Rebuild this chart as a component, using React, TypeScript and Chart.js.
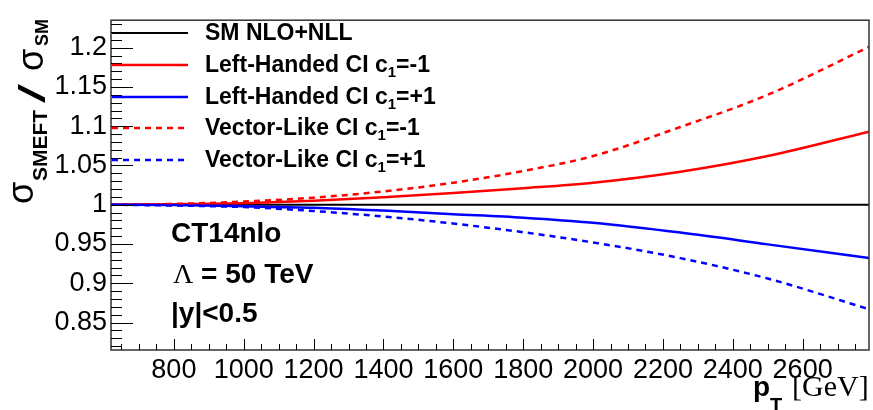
import React, { useEffect, useRef } from "react";
import { Chart, registerables } from "chart.js";
Chart.register(...registerables);

// ---- data ----
const pT = [620, 800, 1000, 1200, 1400, 1600, 1800, 2000, 2250, 2500, 2790];
const smNloNll = [1, 1, 1, 1, 1, 1, 1, 1, 1, 1, 1];
const lhMinus = [1.0, 1.0005, 1.002, 1.005, 1.0095, 1.015, 1.021, 1.028, 1.042, 1.062, 1.093];
const lhPlus = [1.0, 0.9995, 0.998, 0.9962, 0.9925, 0.988, 0.9835, 0.977, 0.9645, 0.9495, 0.932];
const vlMinus = [1.0, 1.001, 1.004, 1.009, 1.017, 1.028, 1.043, 1.062, 1.099, 1.14, 1.201];
const vlPlus = [1.0, 0.999, 0.997, 0.992, 0.985, 0.976, 0.965, 0.952, 0.932, 0.906, 0.867];

const xTickValues = [800, 1000, 1200, 1400, 1600, 1800, 2000, 2200, 2400, 2600];
const xTickLabels = ["800", "1000", "1200", "1400", "1600", "1800", "2000", "2200", "2400", "2600"];
const yTickValues = [0.85, 0.9, 0.95, 1, 1.05, 1.1, 1.15, 1.2];
const yTickLabels = ["0.85", "0.9", "0.95", "1", "1.05", "1.1", "1.15", "1.2"];

const legendMain = ["SM NLO+NLL", "Left-Handed CI c", "Left-Handed CI c", "Vector-Like CI c", "Vector-Like CI c"];
const legendSub = ["", "1", "1", "1", "1"];
const legendTail = ["", "=-1", "=+1", "=-1", "=+1"];

const X_MIN = 620;
const X_MAX = 2790;
const Y_MIN = 0.815;
const Y_MAX = 1.235;

const SANS = "'Liberation Sans', Arial, sans-serif";
const SERIF = "'Liberation Serif', 'Times New Roman', serif";

const styles = [
  { color: "#000000", dash: [] as number[], width: 2 },
  { color: "#ff0000", dash: [] as number[], width: 2.5 },
  { color: "#0000ff", dash: [] as number[], width: 2.5 },
  { color: "#ff0000", dash: [6, 5], width: 2.5 },
  { color: "#0000ff", dash: [6, 5], width: 2.5 },
];

const seriesList = [smNloNll, lhMinus, lhPlus, vlMinus, vlPlus];

const decorPlugin = {
  id: "rootDecor",
  afterDatasetsDraw(chart: any) {
    const ctx = chart.ctx as CanvasRenderingContext2D;
    const { left, right, top, bottom } = chart.chartArea;
    const xs = chart.scales.x;
    const ys = chart.scales.y;
    ctx.save();
    // frame
    ctx.strokeStyle = "#333";
    ctx.lineWidth = 1.5;
    ctx.setLineDash([]);
    ctx.strokeRect(left, top, right - left, bottom - top);

    // y ticks
    ctx.strokeStyle = "#000";
    ctx.lineWidth = 1;
    for (let i = 82; i <= 123; i++) {
      const v = i / 100;
      const py = Math.round(ys.getPixelForValue(v)) + 0.5;
      if (py < top || py > bottom) continue;
      const major = i % 5 === 0;
      ctx.beginPath();
      ctx.moveTo(left, py);
      ctx.lineTo(left + (major ? 22 : 11), py);
      ctx.stroke();
    }
    // x ticks
    for (let v = 650; v <= 2750; v += 50) {
      const px = Math.round(xs.getPixelForValue(v)) + 0.5;
      const major = v % 200 === 0;
      ctx.beginPath();
      ctx.moveTo(px, bottom);
      ctx.lineTo(px, bottom - (major ? 11 : 6));
      ctx.stroke();
    }

    // legend
    const rows = [33, 65, 97, 128, 160];
    for (let i = 0; i < rows.length; i++) {
      const st = styles[i];
      ctx.strokeStyle = st.color;
      ctx.lineWidth = st.width;
      ctx.setLineDash(st.dash);
      ctx.beginPath();
      ctx.moveTo(left + 1, rows[i]);
      ctx.lineTo(188, rows[i]);
      ctx.stroke();
      ctx.setLineDash([]);
      ctx.fillStyle = "#000";
      ctx.textBaseline = "alphabetic";
      ctx.textAlign = "left";
      ctx.font = `bold 23px ${SANS}`;
      let x = 205;
      const base = rows[i] + 7;
      ctx.fillText(legendMain[i], x, base);
      x += ctx.measureText(legendMain[i]).width;
      if (legendSub[i]) {
        ctx.font = `bold 15px ${SANS}`;
        ctx.fillText(legendSub[i], x, base + 5);
        x += ctx.measureText(legendSub[i]).width;
        ctx.font = `bold 23px ${SANS}`;
        ctx.fillText(legendTail[i], x, base);
      }
    }

    // info text
    ctx.fillStyle = "#000";
    ctx.font = `bold 28px ${SANS}`;
    ctx.fillText("CT14nlo", 171, 242);
    ctx.font = `28px ${SERIF}`;
    ctx.fillText("\u039b", 173, 283);
    const lx = 173 + ctx.measureText("\u039b").width;
    ctx.font = `bold 28px ${SANS}`;
    ctx.fillText(" = 50 TeV", lx, 283);
    ctx.fillText("|y|<0.5", 171, 322);

    // x title
    ctx.font = `bold 28px ${SANS}`;
    ctx.fillText("p", 753, 396);
    const tx = 753 + ctx.measureText("p").width;
    ctx.font = `bold 20px ${SANS}`;
    ctx.fillText("T", tx, 412);
    ctx.font = `30px ${SERIF}`;
    ctx.fillText("[GeV]", 792, 396);

    // y title (rotated)
    const drawRot = (text: string, font: string, bx: number, by: number, sx = 1) => {
      ctx.save();
      ctx.translate(bx, by);
      ctx.rotate(-Math.PI / 2);
      ctx.scale(sx, 1);
      ctx.font = font;
      ctx.textAlign = "left";
      ctx.textBaseline = "alphabetic";
      ctx.fillText(text, 0, 0);
      ctx.restore();
    };
    drawRot("\u03c3", `36px ${SANS}`, 33, 204);
    drawRot("SMEFT", `bold 21px ${SANS}`, 47, 181);
    drawRot("/", `36px ${SANS}`, 45, 103, 1.9);
    drawRot("\u03c3", `36px ${SANS}`, 43, 71);
    drawRot("SM", `bold 18px ${SANS}`, 48, 46);

    ctx.restore();
  },
};

export default function App() {
  const ref = useRef<HTMLCanvasElement | null>(null);
  useEffect(() => {
    document.body.style.margin = "0";
    const canvas = ref.current!;
    const datasets = seriesList.map((s, i) => ({
      label: legendMain[i] + legendSub[i] + legendTail[i],
      data: pT.map((x, j) => ({ x, y: s[j] })),
      borderColor: styles[i].color,
      borderWidth: styles[i].width,
      borderDash: styles[i].dash,
      pointRadius: 0,
      cubicInterpolationMode: "monotone" as const,
      fill: false,
      order: 5 - i,
    }));
    const chart = new Chart(canvas, {
      type: "line",
      data: { datasets },
      plugins: [decorPlugin],
      options: {
        animation: false,
        responsive: false,
        maintainAspectRatio: false,
        layout: { padding: { left: 0, right: 4, top: 17, bottom: 0 } },
        plugins: { legend: { display: false }, tooltip: { enabled: false }, title: { display: false } },
        scales: {
          x: {
            type: "linear",
            min: X_MIN,
            max: X_MAX,
            grid: { display: false, drawTicks: false },
            border: { display: false },
            afterBuildTicks: (scale: any) => {
              scale.ticks = xTickValues.map((v) => ({ value: v }));
            },
            afterFit: (scale: any) => {
              scale.height = 60;
            },
            ticks: {
              autoSkip: false,
              maxRotation: 0,
              minRotation: 0,
              padding: 4,
              color: "#000",
              font: { family: SANS, size: 27 },
              callback: (v: any) => {
                const k = xTickValues.indexOf(Number(v));
                return k >= 0 ? xTickLabels[k] : "";
              },
            },
          },
          y: {
            type: "linear",
            min: Y_MIN,
            max: Y_MAX,
            grid: { display: false, drawTicks: false },
            border: { display: false },
            afterBuildTicks: (scale: any) => {
              scale.ticks = yTickValues.map((v) => ({ value: v }));
            },
            afterFit: (scale: any) => {
              scale.width = 111;
            },
            ticks: {
              autoSkip: false,
              padding: 4,
              color: "#000",
              font: { family: SANS, size: 27 },
              callback: (v: any) => {
                const k = yTickValues.findIndex((t) => Math.abs(t - Number(v)) < 1e-6);
                return k >= 0 ? yTickLabels[k] : "";
              },
            },
          },
        },
      },
    });
    return () => chart.destroy();
  }, []);
  return <canvas ref={ref} width={873} height={410} style={{ display: "block", width: 873, height: 410 }} />;
}
